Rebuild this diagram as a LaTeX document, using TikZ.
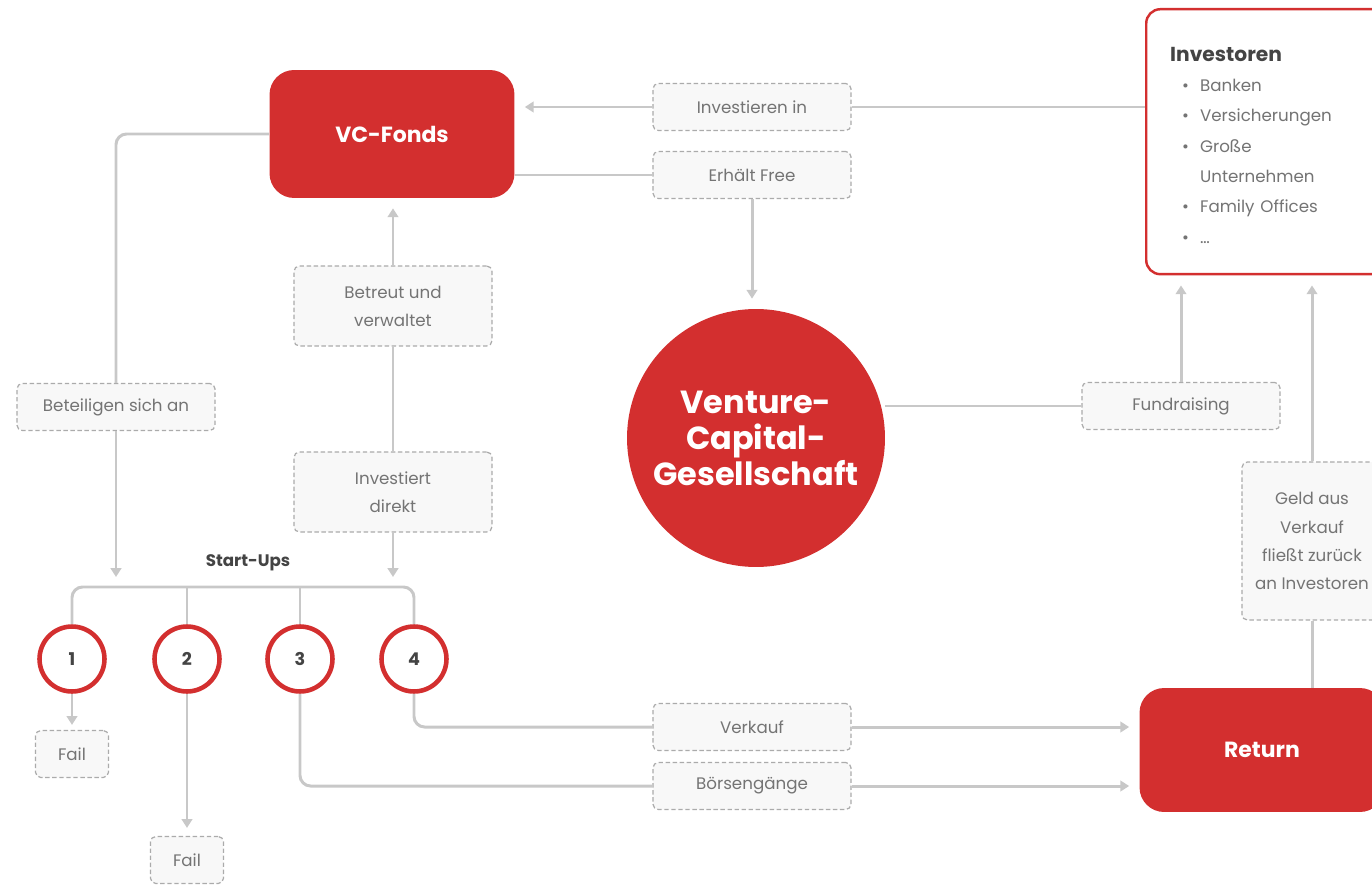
\documentclass[tikz,border=0pt]{standalone}
\usepackage{fontspec}
\setmainfont{Poppins}
\usetikzlibrary{arrows.meta,positioning}
\definecolor{vcred}{HTML}{D32F2F}
\definecolor{linegray}{HTML}{C8C8C8}
\definecolor{dashgray}{HTML}{ABABAB}
\definecolor{labgray}{HTML}{747474}
\definecolor{labfill}{HTML}{F8F8F8}
\definecolor{darktext}{HTML}{444444}
\tikzset{
  lbl/.style={rectangle,rounded corners=3pt,draw=dashgray,dash pattern=on 2.5pt off 1.5pt,
    line width=0.7pt,fill=labfill,text=labgray,font=\fontsize{9.5}{16}\selectfont,
    align=center,minimum width=3.96cm,minimum height=0.94cm},
  lbltwo/.style={lbl,minimum height=1.6cm},
  redbox/.style={rectangle,rounded corners=14pt,fill=vcred,text=white,
    font=\fontsize{12.5}{15}\selectfont\bfseries},
  vcg/.style={circle,fill=vcred,text=white,minimum size=5.16cm,align=center,
    font=\fontsize{18.2}{20.5}\selectfont\bfseries},
  invbox/.style={rectangle,rounded corners=8pt,draw=vcred,line width=1.4pt,fill=white,
    text width=4.3cm,inner xsep=0.48cm,minimum height=5.3cm,align=left,text=labgray},
  startup/.style={circle,draw=vcred,line width=2.6pt,fill=white,minimum size=1.3cm,
    font=\fontsize{10}{12}\selectfont\bfseries,text=darktext},
  conn/.style={draw=linegray,line width=1.7pt,rounded corners=6pt},
  arr/.style={conn,->,shorten >=0.2cm},
  >={Triangle[width=6pt,length=5pt]}
}
\begin{document}
\begin{tikzpicture}[x=0.02cm,y=-0.02cm]
\useasboundingbox (0,0) rectangle (1372,885);
\clip (0,0) rectangle (1372,885);
% main blocks
\node[redbox,minimum width=4.9cm,minimum height=2.56cm] (vcf) at (392,134) {VC-Fonds};
\node[vcg] (vcg) at (756,438) {Venture-\\Capital-\\Gesellschaft};
\node[redbox,minimum width=4.9cm,minimum height=2.48cm] (ret) at (1262,750) {Return};
\node[invbox,anchor=north west] (inv) at (1145,8) {%
  {\fontsize{11.5}{14}\selectfont\bfseries\color{darktext}Investoren}\\[4pt]
  \fontsize{9.5}{17.3}\selectfont
  \begin{tabular}{@{\hspace{0.24cm}}l@{\hspace{0.22cm}}l@{}}
  \textbullet & Banken\\
  \textbullet & Versicherungen\\
  \textbullet & Große\\
              & Unternehmen\\
  \textbullet & Family Offices\\
  \textbullet & …\\[-0.32cm]
  \end{tabular}};
% labels
\node[lbl] (invin) at (752,107) {Investieren in};
\node[lbl] (fee) at (752,175) {Erhält Free};
\node[lbl] (fund) at (1181,406) {Fundraising};
\node[lbl,minimum width=2.8cm,minimum height=3.16cm] (geld) at (1312,541) {Geld aus\\Verkauf\\fließt zurück\\an Investoren};
\node[lbl] (verk) at (752,727) {Verkauf};
\node[lbl] (boe) at (752,786) {Börsengänge};
\node[lbltwo] (betr) at (393,306) {Betreut und\\verwaltet};
\node[lbltwo] (dir) at (393,492) {Investiert\\direkt};
\node[lbl] (bet) at (116,407) {Beteiligen sich an};
% start-ups
\node[font=\fontsize{9.5}{12}\selectfont\bfseries,text=darktext] (su) at (248,563) {Start-Ups};
\foreach \n/\x in {1/72,2/187,3/300,4/414}
  \node[startup] (s\n) at (\x,659) {\n};
\node[lbl,minimum width=1.46cm] (fail1) at (72,754) {Fail};
\node[lbl,minimum width=1.46cm] (fail2) at (187,860) {Fail};
\coordinate (busL) at (72,587);
\coordinate (busR) at (414,587);
% connectors
\draw[conn] (inv.west |- invin.east) -- (invin.east);
\draw[arr] (invin.west) -- (vcf.east |- invin.west);
\draw[conn] (vcf.east |- fee.west) -- (fee.west);
\draw[arr] (fee.south) -- (fee.south |- vcg.north);
\draw[conn] (vcg.east |- fund.west) -- (fund.west);
\draw[arr] (fund.north) -- (fund.north |- inv.south);
\draw[conn] (geld.south |- ret.north) -- (geld.south);
\draw[arr] (geld.north) -- (geld.north |- inv.south);
\draw[conn] (s4.south) |- (verk.west);
\draw[arr] (verk.east) -- (verk.east -| ret.west);
\draw[conn] (s3.south) |- (boe.west);
\draw[arr] (boe.east) -- (boe.east -| ret.west);
\draw[conn] (vcf.west) -| (bet.north);
\draw[arr] (bet.south) -- (bet.south |- busL);
\draw[arr] (betr.north) -- (betr.north |- vcf.south);
\draw[conn] (dir.north) -- (betr.south);
\draw[arr] (dir.south) -- (dir.south |- busR);
\draw[conn] (s1.north) |- (busR) -- (s4.north);
\draw[conn] (s2.north) -- (s2.north |- busL);
\draw[conn] (s3.north) -- (s3.north |- busL);
\draw[arr,shorten >=0.1cm] (s1.south) -- (fail1.north);
\draw[arr,shorten >=0.16cm] (s2.south) -- (fail2.north);
\end{tikzpicture}
\end{document}
